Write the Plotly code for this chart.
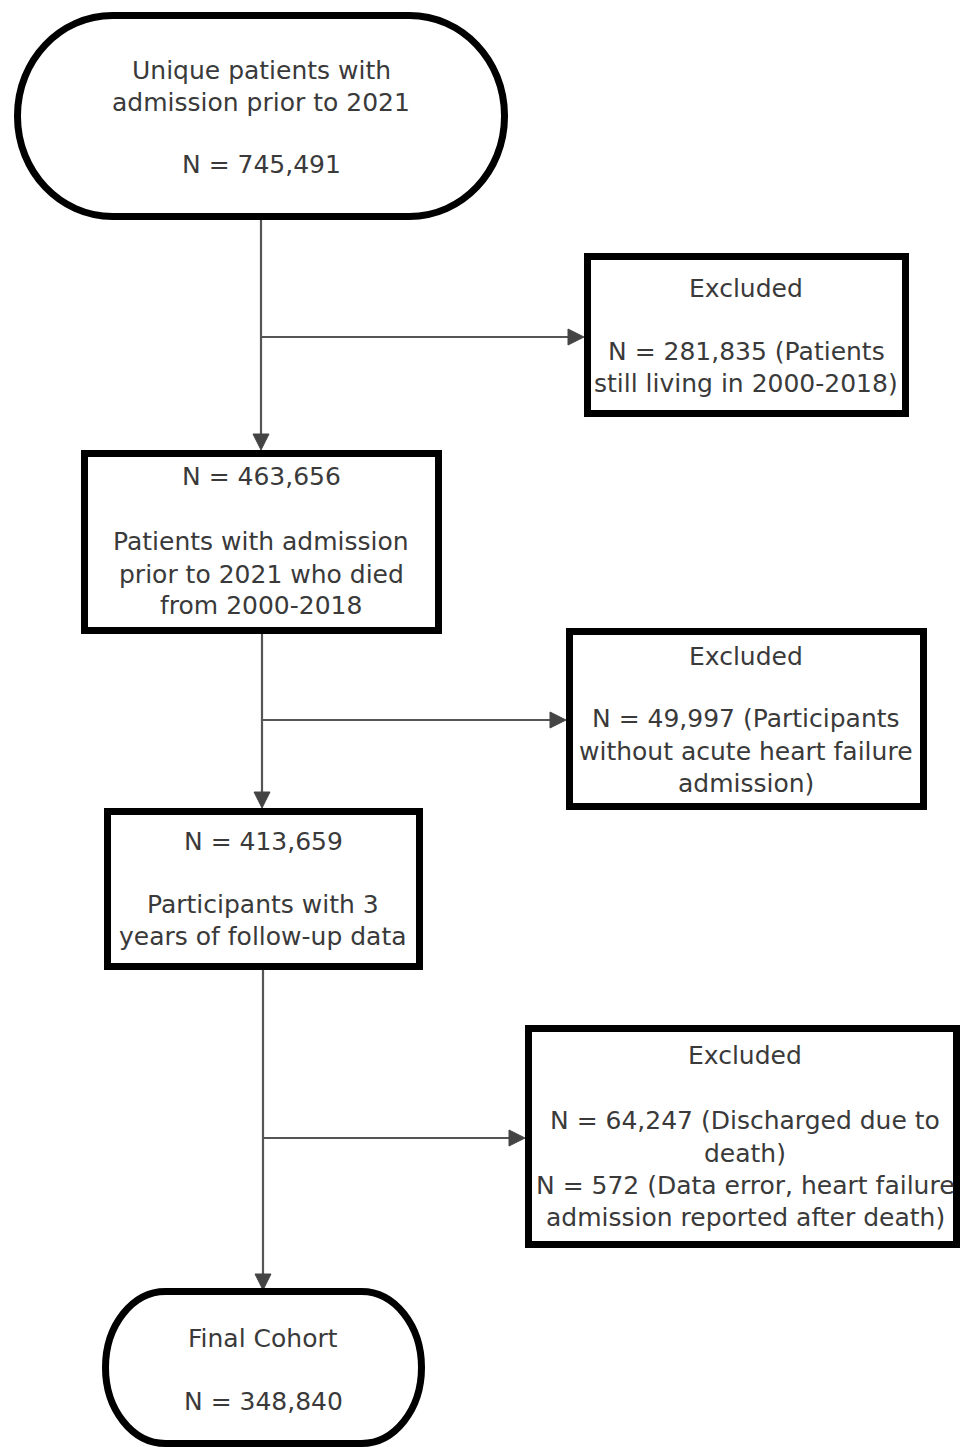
import plotly.graph_objects as go

# ---------------- data ----------------
main_titles = [
    ["Unique patients with", "admission prior to 2021"],
    ["Patients with admission", "prior to 2021 who died", "from 2000-2018"],
    ["Participants with 3", "years of follow-up data"],
    ["Final Cohort"],
]
main_counts = [745491, 463656, 413659, 348840]

excluded_counts = [[281835], [49997], [64247, 572]]
excluded_reasons = [
    [["(Patients", "still living in 2000-2018)"]],
    [["(Participants", "without acute heart failure", "admission)"]],
    [["(Discharged due to", "death)"], ["(Data error, heart failure", "admission reported after death)"]],
]

# ---------------- layout geometry ----------------
W, H = 960, 1447
FONT = dict(family="DejaVu Sans", size=25, color="#3a3a3a")
BORDER = 7
LINE_COL = "#555555"
HEAD_COL = "#444444"

# main boxes: (x0, y0, x1, y1, kind, rx, ry)
main_geo = [
    (17.5, 15.5, 504.5, 216.5, "stadium", 95, 100),
    (84.5, 453.5, 438.5, 630.5, "rect", 0, 0),
    (107.5, 811.5, 419.5, 966.5, "rect", 0, 0),
    (105.5, 1291.5, 421.5, 1443.5, "stadium", 60, 76),
]
# text line y positions for main boxes
main_text_y = [
    [70, 102, 164],
    [476, 541, 574, 605],
    [841, 904, 936],
    [1338, 1401],
]
main_cx = [261, 261, 263, 263]

excl_geo = [
    (587.5, 256.5, 905.5, 413.5),
    (569.5, 631.5, 923.5, 806.5),
    (528.5, 1028.5, 956.5, 1244.5),
]
excl_text_y = [
    [288, 351, 383],
    [656, 718, 751, 783],
    [1055, 1120, 1153, 1185, 1217],
]
excl_cx = [746, 746, 745]

# connectors: vertical (x, y_start, y_tip), branch (y, x_start, x_tip)
vert = [(261, 216, 450), (262, 630, 808), (263, 966, 1290)]
branch = [(337, 261, 584), (720, 262, 566), (1138, 263, 525)]
HEAD_L, HEAD_W = 16, 8


def stadium_path(x0, y0, x1, y1, rx, ry):
    k = 0.5523
    return (
        f"M {x0+rx},{y0} L {x1-rx},{y0} "
        f"C {x1-rx+k*rx},{y0} {x1},{y0+ry-k*ry} {x1},{y0+ry} "
        f"L {x1},{y1-ry} "
        f"C {x1},{y1-ry+k*ry} {x1-rx+k*rx},{y1} {x1-rx},{y1} "
        f"L {x0+rx},{y1} "
        f"C {x0+rx-k*rx},{y1} {x0},{y1-ry+k*ry} {x0},{y1-ry} "
        f"L {x0},{y0+ry} "
        f"C {x0},{y0+ry-k*ry} {x0+rx-k*rx},{y0} {x0+rx},{y0} Z"
    )


shapes = []
annotations = []


def add_text(x, y, s):
    annotations.append(dict(x=x, y=y, xref="x", yref="y", text=s, showarrow=False,
                            font=FONT, xanchor="center", yanchor="middle"))


# connectors
for (x, ys, yt) in vert:
    shapes.append(dict(type="line", x0=x, y0=ys, x1=x, y1=yt - HEAD_L + 1,
                       line=dict(color=LINE_COL, width=2.2), layer="below"))
    shapes.append(dict(type="path", path=f"M {x-HEAD_W},{yt-HEAD_L} L {x+HEAD_W},{yt-HEAD_L} L {x},{yt} Z",
                       fillcolor=HEAD_COL, line=dict(color=HEAD_COL, width=1)))
for (y, xs, xt) in branch:
    shapes.append(dict(type="line", x0=xs, y0=y, x1=xt - HEAD_L + 1, y1=y,
                       line=dict(color=LINE_COL, width=2.2), layer="below"))
    shapes.append(dict(type="path", path=f"M {xt-HEAD_L},{y-HEAD_W} L {xt-HEAD_L},{y+HEAD_W} L {xt},{y} Z",
                       fillcolor=HEAD_COL, line=dict(color=HEAD_COL, width=1)))

# main boxes
for i, (x0, y0, x1, y1, kind, rx, ry) in enumerate(main_geo):
    if kind == "stadium":
        shapes.append(dict(type="path", path=stadium_path(x0, y0, x1, y1, rx, ry),
                           fillcolor="white", line=dict(color="black", width=BORDER)))
    else:
        shapes.append(dict(type="rect", x0=x0, y0=y0, x1=x1, y1=y1,
                           fillcolor="white", line=dict(color="black", width=BORDER)))
    n_line = f"N = {main_counts[i]:,}"
    if i in (0, 3):
        lines = main_titles[i] + [n_line]
    else:
        lines = [n_line] + main_titles[i]
    for s, y in zip(lines, main_text_y[i]):
        add_text(main_cx[i], y, s)

# excluded boxes
for i, (x0, y0, x1, y1) in enumerate(excl_geo):
    shapes.append(dict(type="rect", x0=x0, y0=y0, x1=x1, y1=y1,
                       fillcolor="white", line=dict(color="black", width=BORDER)))
    lines = ["Excluded"]
    for n, reason in zip(excluded_counts[i], excluded_reasons[i]):
        lines.append(f"N = {n:,} {reason[0]}")
        lines.extend(reason[1:])
    for s, y in zip(lines, excl_text_y[i]):
        add_text(excl_cx[i], y, s)

fig = go.Figure()
fig.update_layout(
    width=W, height=H,
    margin=dict(l=0, r=0, t=0, b=0),
    paper_bgcolor="white", plot_bgcolor="white",
    xaxis=dict(range=[0, W], visible=False, fixedrange=True),
    yaxis=dict(range=[H, 0], visible=False, fixedrange=True),
    shapes=shapes, annotations=annotations,
    showlegend=False,
)
fig.write_html("out.html", config=dict(displayModeBar=False),
               post_script="document.body.style.margin='0';document.body.style.overflow='hidden';")
